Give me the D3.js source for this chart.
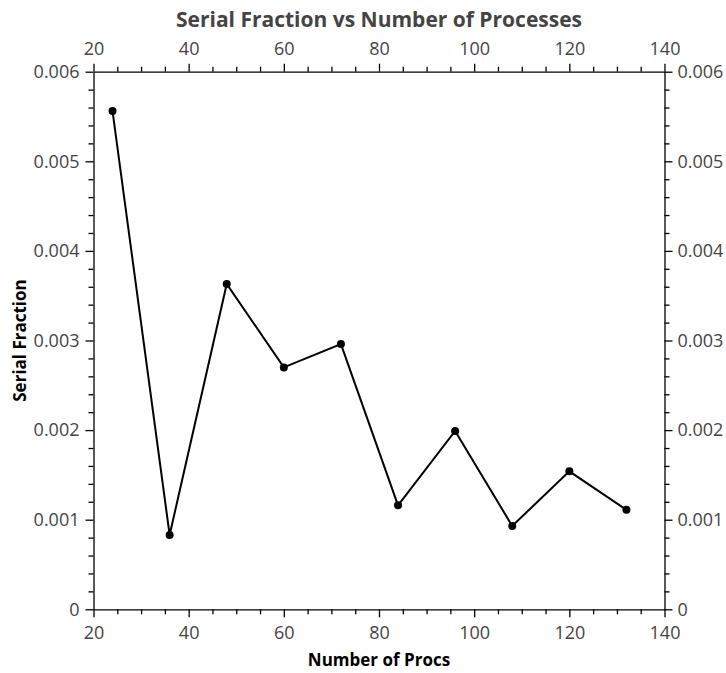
<!DOCTYPE html>
<html>
<head>
<meta charset="utf-8">
<script src="https://cdn.jsdelivr.net/npm/d3@7"></script>
<style>
  body { margin: 0; background: #fff; }
  svg { display: block; }
</style>
</head>
<body>
<script>
const procs = [24, 36, 48, 60, 72, 84, 96, 108, 120, 132];
const serialFraction = [0.00556, 0.00083, 0.00363, 0.0027, 0.00296, 0.00116, 0.00199, 0.00093, 0.00154, 0.00111];
const xTicks = [20, 40, 60, 80, 100, 120, 140];
const yTicks = [0, 0.001, 0.002, 0.003, 0.004, 0.005, 0.006];
const yTickLabels = ["0", "0.001", "0.002", "0.003", "0.004", "0.005", "0.006"];
const titleText = "Serial Fraction vs Number of Processes";
const xLabel = "Number of Procs";
const yLabel = "Serial Fraction";

const W = 726, H = 673;
const m = {left: 93.5, right: 61.5, top: 71.7, bottom: 63.7};
const iw = W - m.left - m.right, ih = H - m.top - m.bottom;

const svg = d3.select("body").append("svg").attr("width", W).attr("height", H);
const g = svg.append("g").attr("transform", `translate(${m.left},${m.top})`);

const x = d3.scaleLinear().domain([20, 140]).range([0, iw]);
const y = d3.scaleLinear().domain([0, 0.006]).range([ih, 0]);

const xMinor = d3.range(20, 140.001, 5).filter(v => v % 20 !== 0);
const yMinor = d3.range(0, 31).map(i => i * 0.0002).filter((v, i) => i % 5 !== 0);
const yFmt = d => yTickLabels[yTicks.findIndex(t => Math.abs(t - d) < 1e-9)];

function styleAxis(sel) {
  sel.attr("font-size", null).attr("font-family", null);
  sel.selectAll("line").attr("stroke", "#000").attr("stroke-width", 1.3);
  sel.selectAll(".domain").attr("stroke", "#000").attr("stroke-width", 1.3);
  sel.selectAll("text")
    .attr("font-family", "'Open Sans', 'Noto Sans', sans-serif")
    .attr("font-size", 18)
    .attr("fill", "#444");
}

function minor(axisFn, scale, vals, tr) {
  const a = g.append("g").attr("transform", tr)
    .call(axisFn(scale).tickValues(vals).tickSize(5).tickFormat(""));
  a.select(".domain").remove();
  styleAxis(a);
}
minor(d3.axisBottom, x, xMinor, `translate(0,${ih})`);
minor(d3.axisTop, x, xMinor, `translate(0,0)`);
minor(d3.axisLeft, y, yMinor, `translate(0,0)`);
minor(d3.axisRight, y, yMinor, `translate(${iw},0)`);

g.append("g").attr("transform", `translate(0,${ih})`)
  .call(d3.axisBottom(x).tickValues(xTicks).tickSize(8).tickPadding(9).tickSizeOuter(0).tickFormat(d3.format("d")))
  .call(styleAxis);
g.append("g")
  .call(d3.axisTop(x).tickValues(xTicks).tickSize(8).tickPadding(9).tickSizeOuter(0).tickFormat(d3.format("d")))
  .call(styleAxis);
g.append("g")
  .call(d3.axisLeft(y).tickValues(yTicks).tickSize(8).tickPadding(6).tickSizeOuter(0).tickFormat(yFmt))
  .call(styleAxis);
g.append("g").attr("transform", `translate(${iw},0)`)
  .call(d3.axisRight(y).tickValues(yTicks).tickSize(8).tickPadding(5).tickSizeOuter(0).tickFormat(yFmt))
  .call(styleAxis);

const data = procs.map((p, i) => ({x: p, y: serialFraction[i]}));
g.append("path").datum(data)
  .attr("fill", "none").attr("stroke", "#000").attr("stroke-width", 2)
  .attr("d", d3.line().x(d => x(d.x)).y(d => y(d.y)));
g.selectAll("circle").data(data).join("circle")
  .attr("cx", d => x(d.x)).attr("cy", d => y(d.y)).attr("r", 4).attr("fill", "#000");

svg.append("text").attr("x", m.left + iw / 2).attr("y", 27)
  .attr("text-anchor", "middle")
  .attr("font-family", "'Open Sans', sans-serif").attr("font-weight", "bold")
  .attr("font-size", 21).attr("fill", "#444").text(titleText);
svg.append("text").attr("x", m.left + iw / 2).attr("y", 666)
  .attr("text-anchor", "middle")
  .attr("font-family", "'Open Sans', sans-serif").attr("font-weight", "bold")
  .attr("font-size", 17).attr("fill", "#000").text(xLabel);
svg.append("text").attr("transform", `translate(26,${m.top + ih / 2}) rotate(-90)`)
  .attr("text-anchor", "middle")
  .attr("font-family", "'Open Sans', sans-serif").attr("font-weight", "bold")
  .attr("font-size", 17).attr("fill", "#000").text(yLabel);
</script>
</body>
</html>
